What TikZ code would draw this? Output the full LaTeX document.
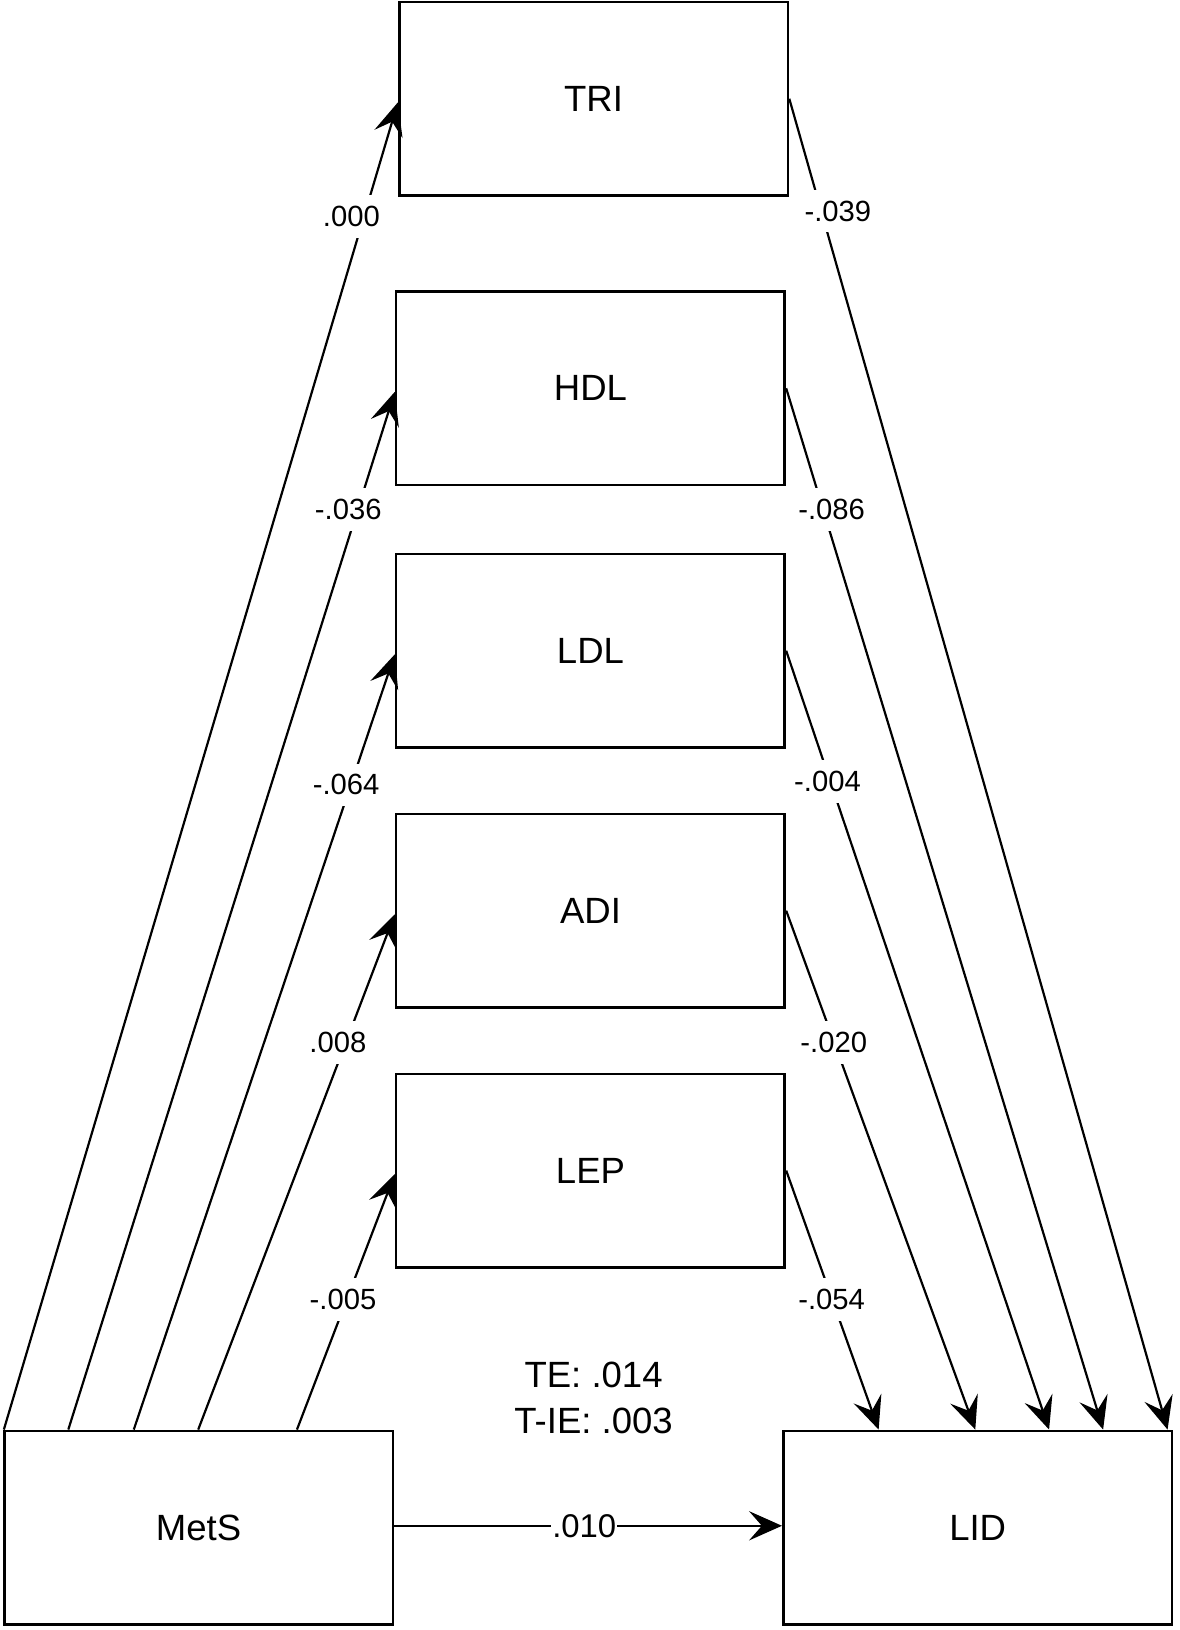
\documentclass[tikz,border=0pt]{standalone}
\usepackage{fontspec}
\setmainfont{Liberation Sans}
\usetikzlibrary{arrows.meta}
\begin{document}
\begin{tikzpicture}[x=0.02cm,y=-0.02cm,
  box/.style={draw, line width=1.5pt, minimum width=7.48cm, minimum height=3.72cm, inner sep=0pt, font=\fontsize{20}{24}\selectfont},
  conn/.style={line width=1.2pt, -{Stealth[length=18pt,width=16pt,inset=7pt]}},
  lab/.style={fill=white, inner xsep=1pt, inner ysep=6pt, font=\fontsize{16}{19}\selectfont},
  mid/.style={fill=white, inner xsep=0.5pt, inner ysep=3pt, font=\fontsize{18}{21}\selectfont},
  note/.style={align=center, font=\fontsize{20}{25}\selectfont}]
\useasboundingbox (0,0) rectangle (1135,1568);
% boxes
\node[box] (TRI) at (571,95) {TRI};
\node[box] (HDL) at (568,373.5) {HDL};
\node[box] (LDL) at (568,626) {LDL};
\node[box] (ADI) at (568,876) {ADI};
\node[box] (LEP) at (568,1126) {LEP};
\node[box] (MetS) at (191,1469.5) {MetS};
\node[box] (LID) at (940.5,1469.5) {LID};
% start / end points
\coordinate (s1) at ([xshift=0.02cm]MetS.north west);
\coordinate (s2) at ([xshift=1.26cm]MetS.north west);
\coordinate (s3) at ([xshift=2.52cm]MetS.north west);
\coordinate (s4) at ([xshift=3.76cm]MetS.north west);
\coordinate (s5) at ([xshift=5.66cm]MetS.north west);
\coordinate (e1) at ([xshift=7.42cm]LID.north west);
\coordinate (e2) at ([xshift=6.18cm]LID.north west);
\coordinate (e3) at ([xshift=5.14cm]LID.north west);
\coordinate (e4) at ([xshift=3.72cm]LID.north west);
\coordinate (e5) at ([xshift=1.86cm]LID.north west);
% left connectors
\draw[conn] (s1) -- ([yshift=-2pt]TRI.west);
\draw[conn] (s2) -- ([yshift=-2pt]HDL.west);
\draw[conn] (s3) -- ([yshift=-2pt]LDL.west);
\draw[conn] (s4) -- ([yshift=-2pt]ADI.west);
\draw[conn] (s5) -- ([yshift=-2pt]LEP.west);
% right connectors
\draw[conn] (TRI.east) -- (e1);
\draw[conn] (HDL.east) -- (e2);
\draw[conn] (LDL.east) -- (e3);
\draw[conn] (ADI.east) -- (e4);
\draw[conn] (LEP.east) -- (e5);
% direct
\draw[conn] ([yshift=1pt]MetS.east) -- node[mid, pos=0.49] (ldir) {.010} ([yshift=1pt]LID.west);
% labels
\node[lab] (l1) at (338,208) {.000};
\node[lab] (l2) at (335,490) {-.036};
\node[lab] (l3) at (333,755) {-.064};
\node[lab] (l4) at (325,1003) {.008};
\node[lab] (l5) at (330,1250) {-.005};
\node[lab] (r1) at (806,203) {-.039};
\node[lab] (r2) at (800,490) {-.086};
\node[lab] (r3) at (796,752) {-.004};
\node[lab] (r4) at (802,1003) {-.020};
\node[lab] (r5) at (800,1250) {-.054};
\node[note] (te) at (571,1345) {TE: .014\\T-IE: .003};
\end{tikzpicture}
\end{document}
